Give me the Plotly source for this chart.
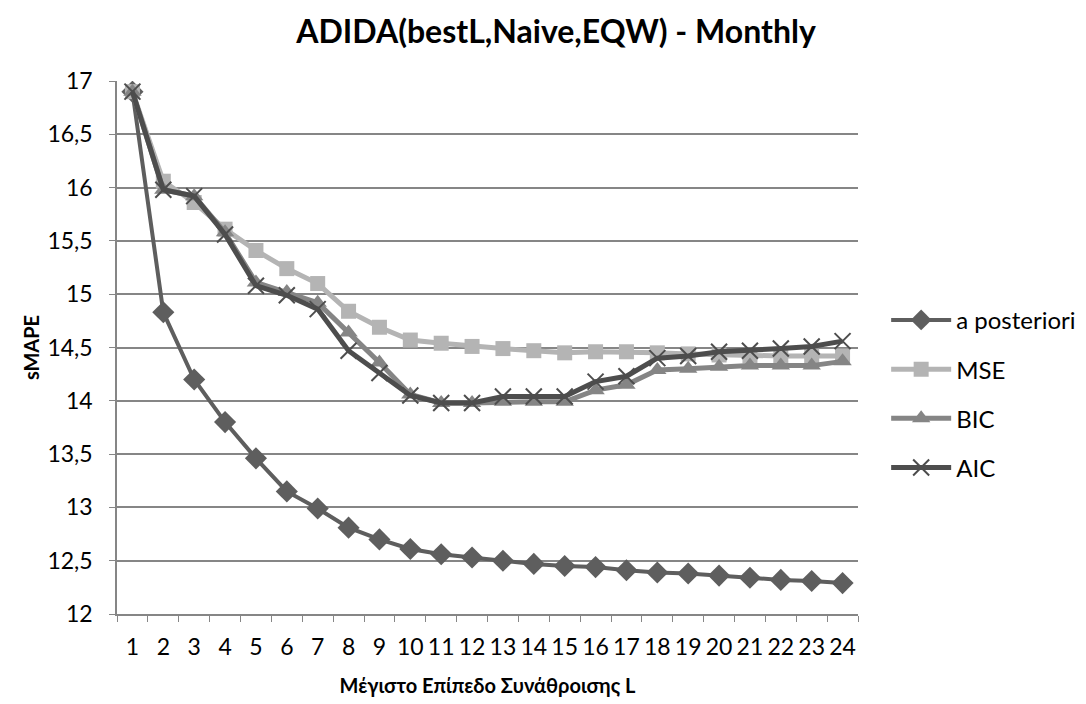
import plotly.graph_objects as go

categories = [str(i) for i in range(1, 25)]
a_posteriori = [16.9, 14.83, 14.2, 13.8, 13.46, 13.15, 12.99, 12.81, 12.7, 12.61, 12.56, 12.53,
                12.5, 12.47, 12.45, 12.44, 12.41, 12.39, 12.38, 12.36, 12.34, 12.32, 12.31, 12.29]
mse = [16.9, 16.06, 15.86, 15.61, 15.41, 15.24, 15.1, 14.84, 14.69, 14.57, 14.54, 14.51,
       14.49, 14.47, 14.45, 14.46, 14.46, 14.45, 14.44, 14.43, 14.42, 14.42, 14.42, 14.42]
bic = [16.9, 15.98, 15.92, 15.58, 15.11, 15.02, 14.92, 14.64, 14.36, 14.06, 13.98, 13.98,
       13.99, 13.99, 13.99, 14.1, 14.15, 14.29, 14.3, 14.32, 14.33, 14.33, 14.33, 14.37]
aic = [16.9, 15.98, 15.92, 15.56, 15.08, 14.99, 14.86, 14.47, 14.26, 14.05, 13.98, 13.98,
       14.04, 14.04, 14.04, 14.18, 14.23, 14.4, 14.42, 14.46, 14.47, 14.49, 14.51, 14.56]

FONT = "Lato"

series = [
    ("a posteriori", a_posteriori, "#5e5e5e", "diamond", 17, 4),
    ("MSE", mse, "#b4b4b4", "square", 15, 5),
    ("BIC", bic, "#858585", "triangle-up", 16, 5),
    ("AIC", aic, "#4d4d4d", "x-thin", 16, 5),
]

fig = go.Figure()
for name, vals, color, sym, size, lw in series:
    marker = dict(symbol=sym, size=size, color=color)
    if sym == "x-thin":
        marker["line"] = dict(color=color, width=2)
    fig.add_trace(go.Scatter(
        x=categories, y=vals, name=name, mode="lines+markers",
        line=dict(color=color, width=lw), marker=marker,
        legendgroup=name,
    ))

fig.update_layout(
    width=1086, height=704,
    margin=dict(l=117, r=228, t=81, b=90, autoexpand=False),
    paper_bgcolor="white", plot_bgcolor="white",
    separators=", ",
    font=dict(family=FONT, size=23, color="#000000"),
    title=dict(text="<b>ADIDA(bestL,Naive,EQW) - Monthly</b>", x=0.512, xanchor="center",
               y=0.955, yanchor="middle", font=dict(size=32, family=FONT)),
    legend=dict(x=1.038, xanchor="left", y=0.413, yanchor="middle",
                tracegroupgap=15, font=dict(size=24, family=FONT),
                itemwidth=60),
    showlegend=True,
)
fig.update_xaxes(
    type="category", range=[-0.5, 23.5], tickson="boundaries", ticks="outside", ticklen=6,
    tickangle=0, tickfont=dict(size=23), ticklabelstandoff=12,
    tickcolor="#868686", showline=True, linecolor="#868686", linewidth=1.5,
    showgrid=False,
    title=dict(text="<b>Μέγιστο Επίπεδο Συνάθροισης L</b>", font=dict(size=20), standoff=20),
)
fig.update_yaxes(
    range=[12, 17], dtick=0.5, tick0=12, ticks="outside", ticklen=6,
    tickfont=dict(size=23), ticklabelstandoff=12,
    tickcolor="#868686", showline=True, linecolor="#868686", linewidth=1.5,
    showgrid=True, gridcolor="#868686", gridwidth=1.5, zeroline=False,
    title=dict(text="<b>sMAPE</b>", font=dict(size=20), standoff=2),
)

fig.write_html("out.html")
